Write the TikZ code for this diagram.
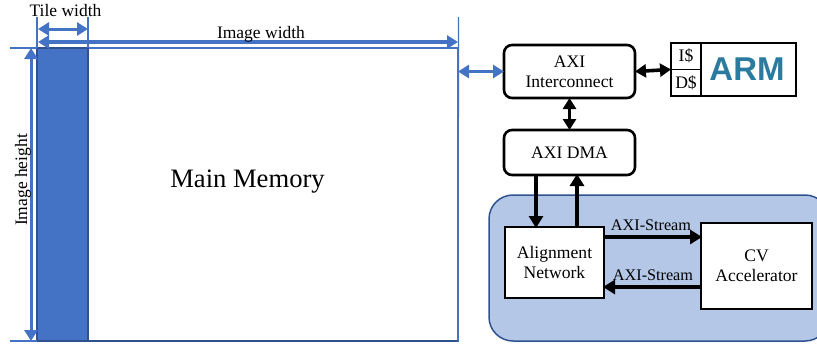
\documentclass[tikz,border=0pt]{standalone}
\usepackage{fontspec}
\setmainfont{Liberation Serif}
\newfontfamily\logofont{Liberation Sans}
\usetikzlibrary{arrows.meta,calc}
\definecolor{memblue}{HTML}{4472C4}
\definecolor{darkblue}{HTML}{2F528F}
\definecolor{regionblue}{HTML}{B4C7E7}
\definecolor{armteal}{HTML}{2A7B9F}
\tikzset{
  x=1pt,y=-1pt,
  box/.style={draw=black,line width=2.6pt,fill=white,align=center,font=\fontsize{17.6}{19}\selectfont,inner sep=0pt,outer sep=0pt},
  rbox/.style={box,rounded corners=8pt},
  blk/.style={line width=3.6pt,draw=black,-{Triangle[length=12pt,width=14pt]},shorten >=-1pt},
  blkboth/.style={line width=3.6pt,draw=black,{Triangle[length=11pt,width=13pt]}-{Triangle[length=11pt,width=13pt]}},
  bluearrow/.style={line width=3pt,draw=memblue,{Triangle[length=11pt,width=13pt]}-{Triangle[length=11pt,width=13pt]}},
  tick/.style={line width=1.3pt,draw=memblue},
  lab/.style={font=\fontsize{17.5}{19}\selectfont,inner sep=0pt},
  slab/.style={font=\fontsize{16.2}{18}\selectfont,inner sep=0pt},
}
\begin{document}
\begin{tikzpicture}
\useasboundingbox (0,0) rectangle (817,343);
% region
\node[draw=darkblue,line width=1.5pt,fill=regionblue,rounded corners=24pt,minimum width=340pt,minimum height=146pt,anchor=north west,inner sep=0pt,outer sep=0pt] (region) at (489,195) {};
% memory
\node[draw=memblue,line width=1.3pt,fill=white,minimum width=421pt,minimum height=293pt,anchor=north west,inner sep=0pt,outer sep=0pt] (mem) at (37,48) {};
\draw[line width=2pt,draw=darkblue] (mem.south west) -- (mem.south east);
\node[draw=darkblue,line width=1.5pt,fill=memblue,minimum width=51pt,minimum height=293pt,anchor=north west,inner sep=0pt,outer sep=0pt] (tile) at (37,48) {};
\node[font=\fontsize{26.6}{30}\selectfont,inner sep=0pt] (memlabel) at (247.5,182) {Main Memory};
% ticks
\coordinate (t1) at (37,17); \coordinate (t2) at (88,17); \coordinate (t3) at (458.5,17);
\coordinate (l1) at (10,48); \coordinate (l2) at (10,341);
\draw[tick] (t1) -- (mem.north west);
\draw[tick] (t2) -- (tile.north east);
\draw[tick] (t3) -- (mem.south east);
\draw[tick] (l1) -- (mem.north west);
\draw[tick] (l2) -- (mem.south west);
% dimension arrows
\coordinate (tw1) at (38,29); \coordinate (tw2) at (88,29);
\draw[bluearrow] (tw1) -- (tw2);
\coordinate (iw1) at (38,42); \coordinate (iw2) at (458,42);
\draw[bluearrow,line width=3.6pt] (iw1) -- (iw2);
\coordinate (ih1) at (31,48); \coordinate (ih2) at (31,341);
\draw[bluearrow] (ih1) -- (ih2);
\node[lab] (twl) at (65.5,11) {Tile width};
\node[lab,fill=none] (iwl) at (261,34) {Image width};
\node[lab,rotate=90] (ihl) at (23,180) {Image height};
% boxes
\node[rbox,minimum width=131pt,minimum height=53pt,anchor=north west] (axi) at (504,45) {\raisebox{-1pt}{AXI}\\[1pt]\raisebox{-1pt}{Interconnect}};
\node[rbox,minimum width=131pt,minimum height=45pt,anchor=north west] (dma) at (504,130) {AXI DMA};
\node[box,minimum width=99pt,minimum height=71pt,anchor=north west] (align) at (505,227) {Alignment\\[1pt]Network};
\node[box,minimum width=111pt,minimum height=86pt,anchor=north west] (cv) at (701,223) {CV\\[1pt]Accelerator};
% ARM
\node[box,minimum width=125pt,minimum height=53pt,anchor=north west] (arm) at (671,43) {};
\node[box,line width=1.5pt,fill=none,minimum width=30pt,minimum height=26.5pt,anchor=north west] (ic) at (671,43) {I\$};
\node[box,line width=1.5pt,fill=none,minimum width=30pt,minimum height=26.5pt,anchor=north west] (dc) at (671,69.5) {D\$};
\node[inner sep=0pt] (armlogo) at (747,69) {\logofont\bfseries\fontsize{33}{33}\selectfont\color{armteal}ARM};
% connectors
\draw[bluearrow,line width=3.4pt] (mem.east |- axi.west) -- (axi.west);
\draw[blkboth] (axi.east) -- (arm.west);
\draw[blkboth] (axi.south) -- (dma.north);
\coordinate (a1) at (536,0); \coordinate (a2) at (577,0);
\draw[blk] (dma.south -| a1) -- (align.north -| a1);
\draw[blk] (align.north -| a2) -- (dma.south -| a2);
\coordinate (b1) at (0,237); \coordinate (b2) at (0,287);
\draw[blk] (align.east |- b1) -- (cv.west |- b1);
\draw[blk] (cv.west |- b2) -- (align.east |- b2);
\node[slab] (s1) at (651,225) {AXI-Stream};
\node[slab] (s2) at (653,275) {AXI-Stream};
\end{tikzpicture}
\end{document}
